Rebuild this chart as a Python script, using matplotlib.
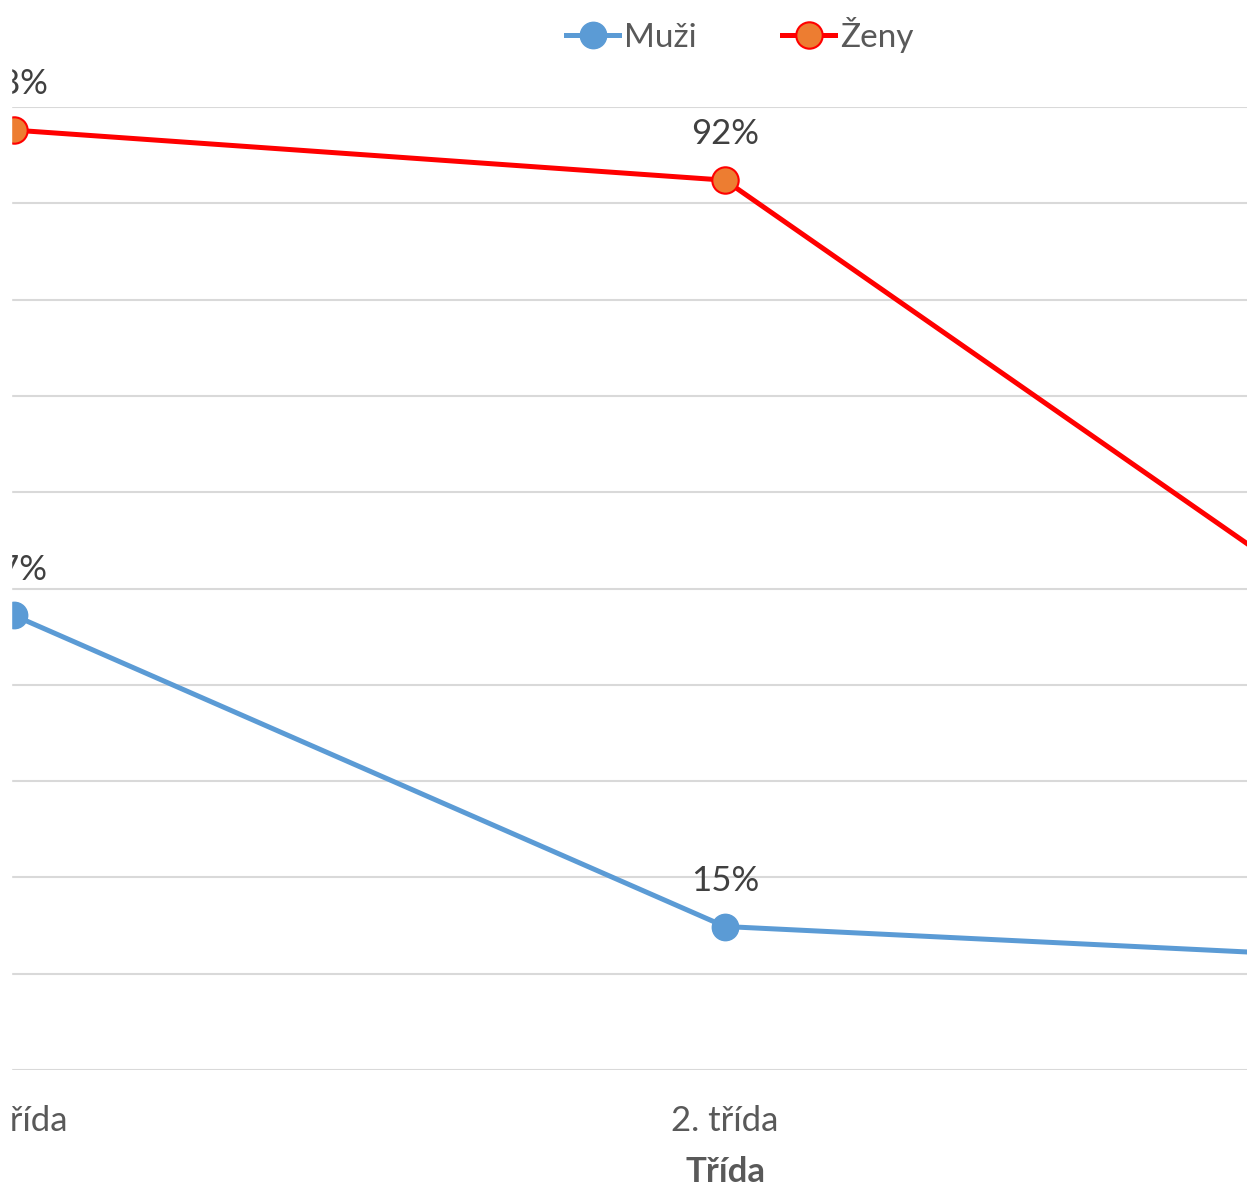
import matplotlib.pyplot as plt
from matplotlib.patches import Rectangle

plt.rcParams['font.family'] = ['Lato', 'DejaVu Sans']

tridy = ["1. třída", "2. třída", "3. třída"]
muzi = [0.472, 0.149, 0.113]
zeny = [0.976, 0.924, 0.41]

fig = plt.figure(figsize=(12.47, 11.90), dpi=100)
ax = fig.add_axes([11 / 1247, 120 / 1190, 1236 / 1247, 963 / 1190])

x = range(len(tridy))
ax.plot(x, muzi, color="#5B9BD5", lw=3.6, marker="o", markersize=19,
        markerfacecolor="#5B9BD5", markeredgecolor="#5B9BD5", label="Muži", zorder=3)
ax.plot(x, zeny, color="#FF0000", lw=3.6, marker="o", markersize=19,
        markerfacecolor="#ED7D31", markeredgecolor="#FF0000", markeredgewidth=1.5,
        label="Ženy", zorder=3)

for i in x:
    ax.annotate("{:.0%}".format(muzi[i]), (i, muzi[i]), xytext=(0, 33),
                textcoords="offset points", ha="center", va="center",
                fontsize=25, color="#404040")
    ax.annotate("{:.0%}".format(zeny[i]), (i, zeny[i]), xytext=(0, 33),
                textcoords="offset points", ha="center", va="center",
                fontsize=25, color="#404040")

ax.set_yticks([i / 10 for i in range(11)])
ax.set_yticklabels([])
ax.set_xticks(list(x))
ax.set_xticklabels(tridy, fontsize=25, color="#595959")
# the picture shows only part of the chart: 1. třída at the left edge
ax.set_xlim(-3 / 711, 1233 / 711)
ax.set_ylim(0, 1)
ax.tick_params(length=0, pad=25)
ax.grid(True, axis="y", color="#D9D9D9", lw=1.5)
ax.set_axisbelow(True)
for s in ax.spines.values():
    s.set_visible(False)

ax.set_xlabel("Třída", fontsize=25, fontweight="bold", color="#595959", labelpad=14)
ax.xaxis.label.set_x(714 / 1236)  # centre of the whole chart (2. třída)

fig.legend(loc="center", bbox_to_anchor=(740 / 1247, 1 - 35 / 1190), ncol=2,
           frameon=False, fontsize=24, handlelength=1.6, handletextpad=0.15,
           columnspacing=2.55, labelcolor="#595959")

fig.patches.append(Rectangle((0, 0), 11 / 1247, 1, transform=fig.transFigure,
                             color="white", zorder=10))

plt.savefig("out.png")
